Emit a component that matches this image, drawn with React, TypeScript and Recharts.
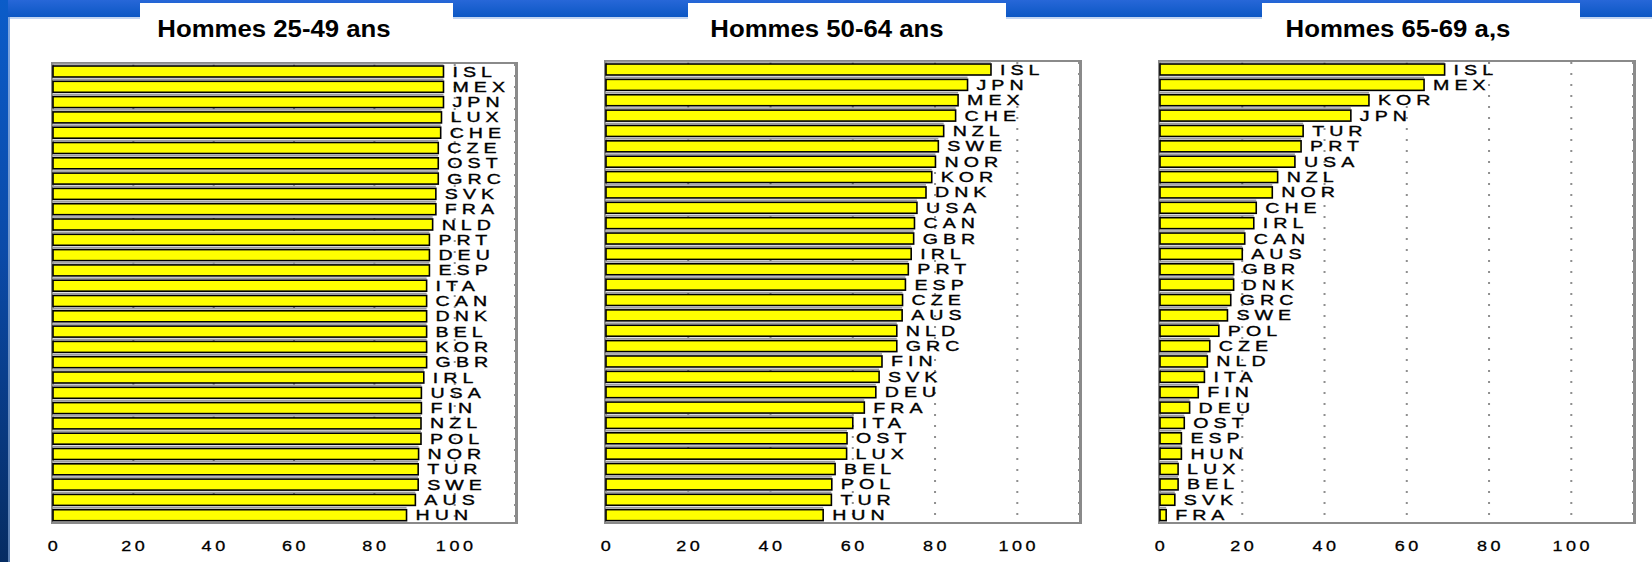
import React from 'react';
import { BarChart, Bar, XAxis, YAxis, CartesianGrid, LabelList } from 'recharts';

// Taux d'emploi des hommes par tranche d'âge (%), classés par pays
const codes2549 = ['ISL', 'MEX', 'JPN', 'LUX', 'CHE', 'CZE', 'OST', 'GRC', 'SVK', 'FRA', 'NLD', 'PRT', 'DEU', 'ESP', 'ITA', 'CAN', 'DNK', 'BEL', 'KOR', 'GBR', 'IRL', 'USA', 'FIN', 'NZL', 'POL', 'NOR', 'TUR', 'SWE', 'AUS', 'HUN'];
const values2549 = [97.2, 97.2, 97.2, 96.7, 96.5, 95.9, 95.9, 95.9, 95.3, 95.3, 94.5, 93.7, 93.7, 93.7, 93.0, 93.0, 93.0, 93.0, 93.0, 93.0, 92.3, 91.7, 91.7, 91.6, 91.6, 91.0, 90.9, 90.9, 90.2, 88.0];

const codes5064 = ['ISL', 'JPN', 'MEX', 'CHE', 'NZL', 'SWE', 'NOR', 'KOR', 'DNK', 'USA', 'CAN', 'GBR', 'IRL', 'PRT', 'ESP', 'CZE', 'AUS', 'NLD', 'GRC', 'FIN', 'SVK', 'DEU', 'FRA', 'ITA', 'OST', 'LUX', 'BEL', 'POL', 'TUR', 'HUN'];
const values5064 = [93.6, 87.9, 85.6, 85.0, 82.1, 80.8, 80.1, 79.2, 77.8, 75.6, 75.0, 74.8, 74.2, 73.5, 72.8, 72.1, 72.0, 70.7, 70.7, 67.1, 66.4, 65.6, 62.8, 60.0, 58.6, 58.5, 55.7, 54.9, 54.8, 52.8];

const codes6569 = ['ISL', 'MEX', 'KOR', 'JPN', 'TUR', 'PRT', 'USA', 'NZL', 'NOR', 'CHE', 'IRL', 'CAN', 'AUS', 'GBR', 'DNK', 'GRC', 'SWE', 'POL', 'CZE', 'NLD', 'ITA', 'FIN', 'DEU', 'OST', 'ESP', 'HUN', 'LUX', 'BEL', 'SVK', 'FRA'];
const values6569 = [69.2, 64.2, 50.8, 46.4, 34.8, 34.3, 32.8, 28.6, 27.3, 23.4, 22.8, 20.6, 20.0, 17.9, 17.9, 17.2, 16.4, 14.3, 12.1, 11.5, 10.8, 9.3, 7.2, 5.9, 5.2, 5.2, 4.4, 4.4, 3.6, 1.5];

const titles = ['Hommes 25-49 ans', 'Hommes 50-64 ans', 'Hommes 65-69 a,s'];
const xTicks = [0, 20, 40, 60, 80, 100];

const font = 'Arial, "Liberation Sans", sans-serif';

const toRows = (codes: string[], values: number[]) =>
  codes.map((name, i) => ({ name, value: values[i] }));

const BarShape = (props: any) => {
  const { x, y, width, height } = props;
  return (
    <g>
      <rect x={x} y={y - 2.8} width={width} height={1.6} fill="#9c9c9c" />
      <rect x={x} y={y} width={width} height={height} fill="#ffff00" stroke="#000" strokeWidth={1.6} />
    </g>
  );
};

const CodeLabel = (props: any) => {
  const { x, y, width, height, value } = props;
  const lx = x + width + 9;
  const ly = y + height / 2 + 5;
  return (
    <text
      transform={`translate(${lx},${ly}) scale(1.4,1)`}
      fontSize={14}
      letterSpacing={3.6}
      fontFamily={font}
      fill="#000"
      stroke="#000"
      strokeWidth={0.35}
    >
      {value}
    </text>
  );
};

const XTick = (props: any) => {
  const { x, y, payload } = props;
  return (
    <text
      transform={`translate(${x + 1.5},${y + 27.5}) scale(1.2,1)`}
      textAnchor="middle"
      fontSize={15}
      letterSpacing={3}
      fontFamily={font}
      fill="#000"
      stroke="#000"
      strokeWidth={0.3}
    >
      {payload.value}
    </text>
  );
};

type PanelProps = {
  rows: { name: string; value: number }[];
  x0: number;
  plotW: number;
  top: number;
};

function Panel({ rows, x0, plotW, top }: PanelProps) {
  const side = 24;
  const bottom = 523;
  return (
    <>
      <div
        style={{
          position: 'absolute',
          left: x0 - 2,
          top: top - 2,
          width: plotW + 5,
          height: bottom - top + 3,
          boxSizing: 'border-box',
          border: '2px solid #8a8a8a',
          borderRightWidth: 3,
        }}
      />
      <div style={{ position: 'absolute', left: x0 - side, top: 0 }}>
        <BarChart
          width={plotW + side * 2}
          height={562}
          data={rows}
          layout="vertical"
          margin={{ top, right: side, bottom: 562 - bottom - 30, left: side }}
        >
          <CartesianGrid horizontal={false} stroke="#8f8f8f" strokeWidth={2} strokeDasharray="2 9" />
          <XAxis
            type="number"
            domain={[0, 115]}
            ticks={xTicks}
            axisLine={false}
            tickLine={false}
            tickSize={0}
            tickMargin={0}
            height={30}
            tick={<XTick />}
            interval={0}
          />
          <YAxis type="category" dataKey="name" hide />
          <Bar dataKey="value" barSize={11} shape={<BarShape />} isAnimationActive={false}>
            <LabelList dataKey="name" content={<CodeLabel />} />
          </Bar>
        </BarChart>
      </div>
    </>
  );
}

const Title = ({ text, boxLeft, boxRight, center }: { text: string; boxLeft: number; boxRight: number; center: number }) => (
  <>
    <div style={{ position: 'absolute', left: boxLeft, top: 3, width: boxRight - boxLeft, height: 22, background: '#fff' }} />
    <div
      style={{
        position: 'absolute',
        left: center - 200,
        top: 18,
        width: 400,
        textAlign: 'center',
        fontFamily: font,
        fontWeight: 'bold',
        fontSize: 23,
        lineHeight: '23px',
        color: '#000',
        transform: 'scaleX(1.12)',
        whiteSpace: 'nowrap',
      }}
    >
      {text}
    </div>
  </>
);

export default function App() {
  return (
    <div
      style={{
        position: 'absolute',
        left: 0,
        top: 0,
        width: 1652,
        height: 562,
        background: '#fff',
        overflow: 'hidden',
      }}
    >
      <div style={{ position: 'absolute', left: 0, top: 0, width: 1652, height: 17, background: 'linear-gradient(#2767d8, #0b57c4)' }} />
      <div style={{ position: 'absolute', left: 10, top: 17, width: 1642, height: 2, background: '#c3d6f2' }} />
      <div style={{ position: 'absolute', left: 0, top: 0, width: 8, height: 562, background: 'linear-gradient(#0b5cc9, #0b4aa8 45%, #062c62)' }} />
      <div style={{ position: 'absolute', left: 8, top: 17, width: 2, height: 545, background: 'linear-gradient(#7fa6e0, #5a7eb0)' }} />

      <Title text={titles[0]} boxLeft={140} boxRight={453} center={274} />
      <Title text={titles[1]} boxLeft={688} boxRight={1006} center={827} />
      <Title text={titles[2]} boxLeft={1262} boxRight={1580} center={1398} />

      <Panel rows={toRows(codes2549, values2549)} x0={53.2} plotW={462} top={64} />
      <Panel rows={toRows(codes5064, values5064)} x0={606} plotW={473} top={62} />
      <Panel rows={toRows(codes6569, values6569)} x0={1160} plotW={473} top={62} />
    </div>
  );
}
